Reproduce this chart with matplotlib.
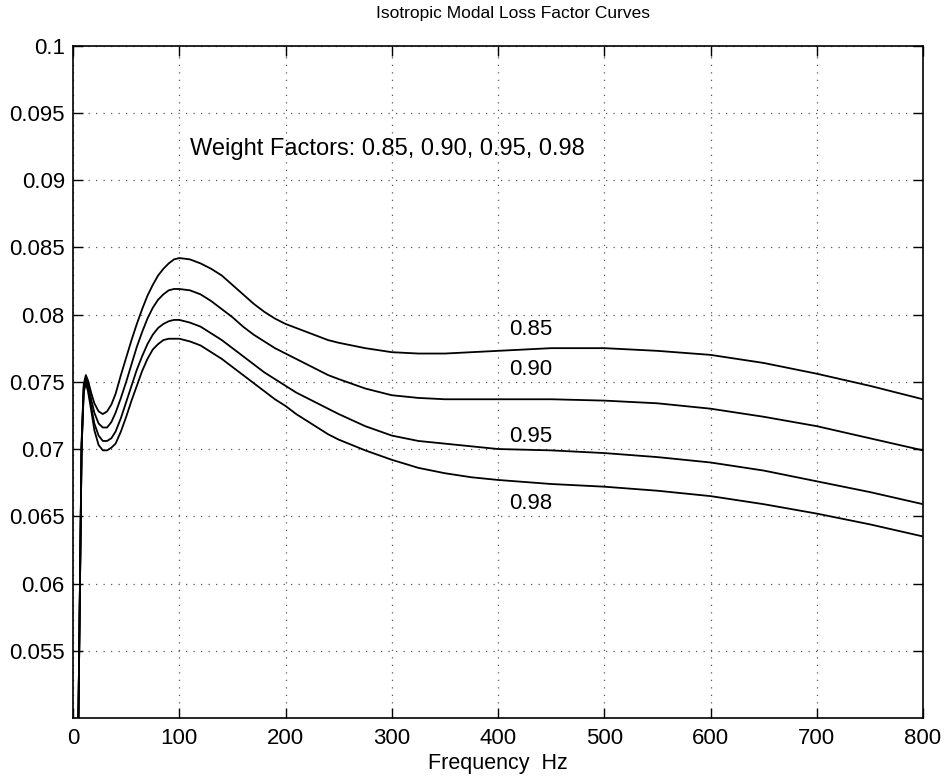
import matplotlib
matplotlib.use("Agg")
import matplotlib.pyplot as plt

plt.rcParams['font.family'] = ['Liberation Sans', 'DejaVu Sans']

# frequency samples (Hz)
freq = [0, 5, 8, 10, 12, 14, 17, 20, 24, 28, 32, 36, 40, 45, 50, 55, 60, 65, 70, 75,
        80, 85, 90, 95, 100, 110, 120, 130, 140, 150, 160, 170, 180, 190, 200, 210,
        220, 230, 240, 250, 275, 300, 325, 350, 375, 400, 450, 500, 550, 600, 650,
        700, 750, 800]

# modal loss factor for each weight factor
loss_085 = [0.035, 0.050, 0.0705, 0.0748, 0.0755, 0.0751, 0.0742, 0.0734, 0.0728, 0.0726,
            0.0728, 0.0733, 0.0741, 0.0755, 0.0768, 0.0781, 0.0793, 0.0804, 0.0814, 0.0822,
            0.0829, 0.0834, 0.0838, 0.0841, 0.0842, 0.0841, 0.0838, 0.0834, 0.0829, 0.0822,
            0.0815, 0.0808, 0.0802, 0.0797, 0.0793, 0.0790, 0.0787, 0.0784, 0.0781, 0.0779,
            0.0775, 0.0772, 0.0771, 0.0771, 0.0772, 0.0773, 0.0775, 0.0775, 0.0773, 0.0770,
            0.0764, 0.0756, 0.0747, 0.0737]
loss_090 = [0.035, 0.050, 0.0703, 0.0746, 0.0753, 0.0748, 0.0737, 0.0727, 0.0719, 0.0716,
            0.0716, 0.0720, 0.0727, 0.0738, 0.0750, 0.0763, 0.0776, 0.0787, 0.0797, 0.0805,
            0.0811, 0.0815, 0.0818, 0.0819, 0.0819, 0.0818, 0.0815, 0.0810, 0.0804, 0.0798,
            0.0791, 0.0785, 0.0780, 0.0775, 0.0771, 0.0767, 0.0763, 0.0759, 0.0755, 0.0752,
            0.0745, 0.0740, 0.0738, 0.0737, 0.0737, 0.0737, 0.0737, 0.0736, 0.0734, 0.0730,
            0.0724, 0.0717, 0.0708, 0.0699]
loss_095 = [0.035, 0.050, 0.0701, 0.0744, 0.0751, 0.0745, 0.0732, 0.0719, 0.0710, 0.0706,
            0.0706, 0.0708, 0.0713, 0.0723, 0.0735, 0.0747, 0.0759, 0.0769, 0.0778, 0.0785,
            0.0790, 0.0793, 0.0795, 0.0796, 0.0796, 0.0794, 0.0791, 0.0786, 0.0781, 0.0775,
            0.0769, 0.0763, 0.0757, 0.0752, 0.0747, 0.0742, 0.0738, 0.0734, 0.0730, 0.0726,
            0.0717, 0.0710, 0.0706, 0.0704, 0.0702, 0.0700, 0.0699, 0.0697, 0.0694, 0.0690,
            0.0684, 0.0676, 0.0668, 0.0659]
loss_098 = [0.035, 0.050, 0.0700, 0.0742, 0.0749, 0.0743, 0.0729, 0.0714, 0.0703, 0.0699,
            0.0699, 0.0701, 0.0704, 0.0713, 0.0724, 0.0736, 0.0747, 0.0758, 0.0767, 0.0774,
            0.0778, 0.0781, 0.0782, 0.0782, 0.0782, 0.0780, 0.0777, 0.0772, 0.0767, 0.0761,
            0.0755, 0.0749, 0.0743, 0.0737, 0.0732, 0.0726, 0.0721, 0.0716, 0.0711, 0.0707,
            0.0699, 0.0692, 0.0686, 0.0682, 0.0679, 0.0677, 0.0674, 0.0672, 0.0669, 0.0665,
            0.0659, 0.0652, 0.0644, 0.0635]

curves = [loss_085, loss_090, loss_095, loss_098]
curve_labels = ['0.85', '0.90', '0.95', '0.98']
label_y = [0.07885, 0.0759, 0.07092, 0.06594]

x_ticks = [0, 100, 200, 300, 400, 500, 600, 700, 800]
y_ticks = [0.055, 0.06, 0.065, 0.07, 0.075, 0.08, 0.085, 0.09, 0.095, 0.1]
y_ticklabels = ['0.055', '0.06', '0.065', '0.07', '0.075', '0.08', '0.085', '0.09', '0.095', '0.1']

fig = plt.figure(figsize=(9.48, 7.77), dpi=100)
ax = fig.add_axes([0.0771, 0.0759, 0.8965, 0.8655])

for vals in curves:
    ax.plot(freq, vals, color='black', linewidth=1.3)

for lab, ly in zip(curve_labels, label_y):
    ax.text(410, ly, lab, fontsize=16, ha='left', va='center')

ax.text(110, 0.0923, 'Weight Factors: 0.85, 0.90, 0.95, 0.98', fontsize=17,
        ha='left', va='center')

ax.set_xlim(0, 800)
ax.set_ylim(0.05, 0.1)
ax.set_xticks(x_ticks)
ax.set_yticks(y_ticks)
ax.set_yticklabels(y_ticklabels)
ax.tick_params(direction='in', length=7, width=1.0, labelsize=16,
               top=True, right=True, pad=7)
ax.tick_params(axis='y', pad=6)
ax.grid(True, color='0.35', linestyle=(0, (1, 5)), linewidth=0.9)
for sp in ax.spines.values():
    sp.set_linewidth(1.2)

fig.text(0.541, 0.983, 'Isotropic Modal Loss Factor Curves', fontsize=12.5,
         ha='center', va='center')
ax.set_xlabel('Frequency  Hz', fontsize=15.5, labelpad=3)

fig.savefig('out.png', dpi=100)
